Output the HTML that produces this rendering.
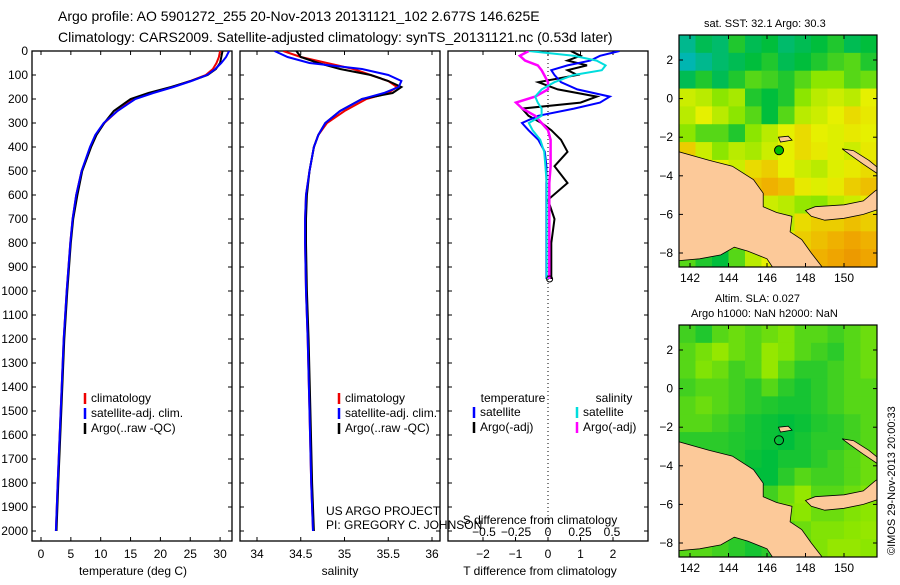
<!DOCTYPE html>
<html><head><meta charset="utf-8"><style>
body{margin:0;background:#fff;}
svg{font-family:"Liberation Sans",sans-serif;}
text{font-size:12px;fill:#000;}
</style></head><body>
<svg id="fig" width="900" height="580" viewBox="0 0 900 580">
<text x="58" y="21" style="font-size:14px">Argo profile: AO 5901272_255 20-Nov-2013 20131121_102 2.677S 146.625E</text>
<text x="58" y="42" style="font-size:14px">Climatology: CARS2009. Satellite-adjusted climatology: synTS_20131121.nc (0.53d later)</text>
<text x="704" y="27" style="font-size:11px">sat. SST: 32.1  Argo: 30.3</text>
<text x="715" y="302" style="font-size:11px">Altim. SLA: 0.027</text>
<text x="691" y="317" style="font-size:11px">Argo h1000: NaN h2000: NaN</text>
<text transform="translate(895,555) rotate(-90)" style="font-size:11px">©IMOS 29-Nov-2013 20:00:33</text>
<text x="326" y="515">US ARGO PROJECT</text>
<text x="326" y="529">PI: GREGORY C. JOHNSON</text>
</svg>
<script>
const depths=[0,25,50,75,100,125,150,175,200,250,300,350,400,500,600,700,800,1000,1200,1500,1800,2000];
const tempClim=[30,29.8,29.4,28.8,27.6,25,22,18.5,15.5,12.8,10.6,9.2,8.3,6.8,5.9,5.3,4.9,4.3,3.8,3.3,2.8,2.5];
const tempSat=[31.5,31,30.2,29.2,27.8,25.2,22.2,18.8,15.8,12.8,10.5,9.1,8.2,6.8,5.9,5.3,4.9,4.3,3.8,3.3,2.8,2.5];
const tempArgo=[30.4,30.2,30,29.3,27.9,25.1,21.8,18,15,12.2,10.6,9.3,8.4,6.9,6.1,5.4,5,4.4,3.9,3.4,2.9,2.6];
const salClim=[34.3,34.5,34.8,35.1,35.3,35.5,35.6,35.5,35.25,35.0,34.8,34.7,34.65,34.6,34.56,34.55,34.55,34.56,34.58,34.6,34.62,34.64];
const salSat=[34.2,34.35,34.6,35.2,35.5,35.65,35.62,35.45,35.2,34.95,34.78,34.7,34.65,34.6,34.56,34.55,34.55,34.56,34.58,34.6,34.62,34.64];
const salArgo=[34.45,34.5,34.7,34.95,35.3,35.5,35.65,35.55,35.2,34.95,34.78,34.7,34.65,34.6,34.57,34.56,34.56,34.57,34.59,34.61,34.63,34.65];
const dDepth=[0,20,40,60,80,100,130,160,190,215,240,270,300,330,370,420,480,550,620,700,800,950];
const tDiffSat=[2.2,1.6,1.3,0.6,0.1,0.2,0.4,0.9,1.9,1.6,0.8,-0.3,-0.8,-0.6,-0.3,-0.1,-0.05,-0.05,-0.05,-0.05,-0.05,-0.05];
const tDiffArgo=[0.7,1.0,0.6,1.2,0.6,0.9,-0.3,0.3,1.5,1.0,-0.8,-0.6,-0.2,0.1,0.4,0.6,0.2,0.6,0.0,0.2,0.1,0.1];
const sDiffSat=[-0.15,0.2,0.38,0.45,0.42,0.2,0.05,-0.05,-0.1,-0.08,-0.05,-0.05,-0.15,-0.12,-0.06,-0.03,-0.02,-0.01,-0.01,-0.01,-0.01,-0.01];
const sDiffArgo=[-0.15,-0.22,-0.18,-0.08,-0.05,-0.03,0.0,0.0,-0.1,-0.25,-0.2,-0.1,-0.05,0.0,0.02,0.02,0.02,0.01,0.01,0.01,0.01,0.01];
const depthTicks=[0,100,200,300,400,500,600,700,800,900,1000,1100,1200,1300,1400,1500,1600,1700,1800,1900,2000];
const tempTicks=[0,5,10,15,20,25,30];
const salTicks=["34","34.5","35","35.5","36"];
const tdTicks=[-2,-1,0,1,2];
const sdTicks=["-0.5","-0.25","0","0.25","0.5"];
const lonTicks=[142,144,146,148,150];
const latTicks=[2,0,-2,-4,-6,-8];
const sstGrid=[
[.35,.4,.38,.45,.4,.42,.38,.4,.42,.45,.4,.42],
[.32,.35,.38,.4,.42,.45,.4,.42,.45,.48,.5,.45],
[.4,.45,.4,.45,.5,.48,.45,.5,.55,.55,.5,.52],
[.62,.6,.55,.58,.45,.42,.45,.55,.6,.62,.6,.65],
[.6,.65,.6,.55,.5,.42,.5,.6,.62,.65,.68,.66],
[.55,.5,.5,.45,.55,.6,.65,.68,.65,.64,.66,.65],
[.7,.62,.55,.6,.58,.62,.65,.68,.66,.64,.62,.66],
[.72,.7,.65,.62,.68,.7,.65,.62,.6,.64,.66,.68],
[.7,.68,.66,.7,.72,.74,.72,.66,.64,.66,.7,.72],
[.65,.66,.64,.62,.6,.62,.6,.56,.55,.6,.62,.66],
[.6,.6,.58,.55,.5,.52,.6,.68,.7,.7,.72,.7],
[.5,.48,.5,.55,.6,.62,.65,.7,.72,.74,.76,.74],
[.5,.45,.42,.5,.6,.65,.7,.72,.74,.76,.78,.76]];
const slaGrid=[
[.48,.45,.5,.52,.5,.52,.54,.5,.5,.48,.5,.52],
[.5,.53,.56,.52,.5,.56,.54,.5,.48,.46,.5,.52],
[.5,.54,.52,.48,.5,.56,.5,.46,.46,.48,.5,.52],
[.48,.5,.5,.48,.46,.5,.46,.44,.46,.48,.5,.5],
[.5,.52,.5,.48,.46,.45,.44,.44,.46,.48,.5,.5],
[.5,.5,.48,.46,.44,.43,.42,.43,.45,.46,.48,.5],
[.46,.46,.46,.45,.44,.43,.42,.44,.46,.46,.48,.5],
[.46,.46,.46,.45,.43,.42,.44,.44,.46,.48,.5,.52],
[.48,.48,.46,.44,.42,.42,.46,.5,.48,.48,.5,.52],
[.5,.5,.48,.46,.46,.48,.52,.56,.5,.5,.52,.54],
[.5,.5,.5,.48,.48,.5,.54,.55,.52,.52,.54,.55],
[.5,.52,.5,.48,.46,.48,.5,.52,.54,.54,.55,.56],
[.5,.5,.48,.46,.44,.46,.48,.5,.54,.56,.56,.55]];
const svg=document.getElementById('fig');
const NS='http://www.w3.org/2000/svg';
function mk(t,a,p){const e=document.createElementNS(NS,t);for(const k in a)e.setAttribute(k,a[k]);(p||svg).appendChild(e);return e;}
const yD=d=>51+d*0.24;
const xT=v=>41+v*5.97;
const xS=v=>257+(v-34)*87.5;
const xTD=v=>548+v*32.5;
const xSD=v=>548+v*128;
function panel(x,name){const r=mk('rect',{x:x,y:51,width:200,height:490,fill:'none',stroke:'#000','stroke-width':1.3});}
panel(32,'temperature-panel');panel(240,'salinity-panel');panel(448,'difference-panel');
depthTicks.forEach(d=>{const y=yD(d);
 const t=mk('text',{x:28,y:y+4,'text-anchor':'end'});t.textContent=d;
 
 [32,240,448].forEach(x=>{mk('line',{x1:x,y1:y,x2:x+4,y2:y,stroke:'#000'});mk('line',{x1:x+200,y1:y,x2:x+196,y2:y,stroke:'#000'});});});
function xticks(vals,fx,name,labY){vals.forEach(v=>{const x=fx(+v);mk('line',{x1:x,y1:541,x2:x,y2:537,stroke:'#000'});mk('line',{x1:x,y1:51,x2:x,y2:55,stroke:'#000'});
 const t=mk('text',{x:x,y:labY,'text-anchor':'middle'});t.textContent=String(v).replace('-','\u2212');
 });}
xticks(tempTicks,xT,'temp-tick-label',558);xticks(salTicks,xS,'salinity-tick-label',558);
xticks(tdTicks,xTD,'tdiff-tick-label',558);
sdTicks.forEach(v=>{const t=mk('text',{x:xSD(+v),y:536,'text-anchor':'middle'});t.textContent=v.replace('-','\u2212');});
function lab(x,y,s,name){const t=mk('text',{x:x,y:y,'text-anchor':'middle'});t.textContent=s;}
lab(133,575,'temperature (deg C)','temp-axis-title');lab(340,575,'salinity','salinity-axis-title');
lab(540,575,'T difference from climatology','tdiff-axis-title');lab(540,524,'S difference from climatology','sdiff-axis-title');
mk('line',{x1:548,y1:51,x2:548,y2:541,stroke:'#000','stroke-dasharray':'1,3'});
const cp=mk('clipPath',{id:'pclip'});mk('rect',{x:32,y:51,width:616,height:490},cp);
function line(xs,ds,fx,col,name,w){const p=xs.map((v,i)=>fx(v).toFixed(1)+','+yD(ds[i]).toFixed(1)).join(' ');
 const e=mk('polyline',{points:p,fill:'none',stroke:col,'stroke-width':w||2,'clip-path':'url(#pclip)'});}
line(tempClim,depths,xT,'#e00','temp-climatology-line');line(tempArgo,depths,xT,'#000','temp-argo-line');line(tempSat,depths,xT,'#00f','temp-satellite-line');
line(salClim,depths,xS,'#e00','sal-climatology-line');line(salArgo,depths,xS,'#000','sal-argo-line');line(salSat,depths,xS,'#00f','sal-satellite-line');
line(tDiffArgo,dDepth,xTD,'#000','tdiff-argo-line');line(tDiffSat,dDepth,xTD,'#00f','tdiff-satellite-line');
line(sDiffArgo,dDepth,xSD,'#f0f','sdiff-argo-line',2.5);line(sDiffSat,dDepth,xSD,'#0dd','sdiff-satellite-line');
function legend(x,y,items,name){items.forEach((it,i)=>{const yy=y+i*15;mk('line',{x1:x,y1:yy-9,x2:x,y2:yy+2,stroke:it[1],'stroke-width':2.5});
 const t=mk('text',{x:x+6,y:yy});t.textContent=it[0];});}
legend(85,402,[['climatology','#e00'],['satellite-adj. clim.','#00f'],['Argo(..raw -QC)','#000']],'temp-legend-entry');
legend(339,402,[['climatology','#e00'],['satellite-adj. clim.','#00f'],['Argo(..raw -QC)','#000']],'sal-legend-entry');
lab(513,402,'temperature','tdiff-legend-header');lab(614,402,'salinity','sdiff-legend-header');
legend(474,416,[['satellite','#00f'],['Argo(-adj)','#000']],'tdiff-legend-entry');
legend(577,416,[['satellite','#0dd'],['Argo(-adj)','#f0f']],'sdiff-legend-entry');
mk('circle',{cx:xTD(0.05),cy:yD(950),r:3,fill:'none',stroke:'#000'});
function cmap(v){const stops=[[0,[0,80,255]],[0.3,[0,180,200]],[0.42,[0,190,60]],[0.55,[140,230,0]],[0.65,[230,240,0]],[0.75,[240,170,0]],[0.9,[220,90,0]]];
 for(let i=1;i<stops.length;i++){if(v<=stops[i][0]){const a=stops[i-1],b=stops[i],f=(v-a[0])/(b[0]-a[0]);return 'rgb('+a[1].map((c,k)=>Math.round(c+f*(b[1][k]-c))).join(',')+')';}}return 'rgb(220,90,0)';}
const landMain=[[141.4,-2.75],[143,-3.2],[144.2,-3.5],[145.3,-4.2],[145.8,-4.9],[145.8,-5.6],[146.5,-5.9],[147.3,-6.1],[147.2,-6.9],[147.8,-7.3],[148.3,-8],[149,-8.9],[146.4,-8.9],[146,-8.3],[145,-7.9],[144.3,-7.7],[143.6,-8.1],[142.5,-8.3],[141.4,-8.4]];
const landNB=[[148,-5.8],[148.5,-5.6],[150,-5.5],[151,-5.3],[151.6,-4.8],[151.9,-4.6],[151.9,-5.7],[151,-6.0],[150,-6.2],[149,-6.3],[148.3,-6.1]];
const landNI=[[149.9,-2.6],[150.5,-2.7],[151.3,-3.2],[151.9,-3.7],[151.9,-4],[151,-3.4],[150.3,-2.9]];
const landManus=[[146.6,-2.0],[147.1,-1.95],[147.3,-2.15],[146.7,-2.25]];
let mapId=0;
function map(y0,y2,grid,name,latY0,dotFill){const x0=679,x1=877;const lonX=l=>690+(l-142)*19.25;const latY=l=>latY0-(l-2)*19.3;
 const id='mclip'+(mapId++);const c=mk('clipPath',{id:id});mk('rect',{x:x0,y:y0,width:x1-x0,height:y2-y0},c);
 const g=mk('g',{'clip-path':'url(#'+id+')'});
 const rows=grid.length,cols=grid[0].length,cw=(x1-x0)/cols,ch=(y2-y0)/rows;
 grid.forEach((r,i)=>r.forEach((v,j)=>{const c=mk('rect',{x:x0+j*cw,y:y0+i*ch,width:cw+0.5,height:ch+0.5,fill:cmap(v)},g);}));
 [landMain,landNB,landNI,landManus].forEach(p=>{const e=mk('polygon',{points:p.map(q=>lonX(q[0]).toFixed(1)+','+latY(q[1]).toFixed(1)).join(' '),fill:'#fcc999',stroke:'#000','stroke-width':0.8},g);});
 mk('circle',{cx:lonX(146.625),cy:latY(-2.677),r:4.5,fill:dotFill,stroke:'#000'},g);
 mk('rect',{x:x0,y:y0,width:x1-x0,height:y2-y0,fill:'none',stroke:'#000','stroke-width':1.2});
 lonTicks.forEach(l=>{const x=lonX(l);mk('line',{x1:x,y1:y2,x2:x,y2:y2-4,stroke:'#000'});mk('line',{x1:x,y1:y0,x2:x,y2:y0+4,stroke:'#000'});
  const t=mk('text',{x:x,y:y2+15,'text-anchor':'middle'});t.textContent=l;});
 latTicks.forEach(l=>{const y=latY(l);mk('line',{x1:x0,y1:y,x2:x0+4,y2:y,stroke:'#000'});mk('line',{x1:x1,y1:y,x2:x1-4,y2:y,stroke:'#000'});
  const t=mk('text',{x:x0-6,y:y+4,'text-anchor':'end'});t.textContent=String(l).replace('-','\u2212');});}
map(35,267,sstGrid,'sst-map',60,'#0b0');map(325,557,slaGrid,'sla-map',350,'none');
</script>
</body></html>
